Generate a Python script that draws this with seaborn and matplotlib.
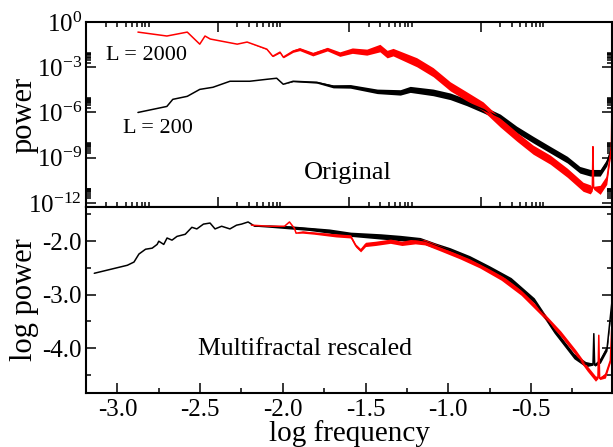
import numpy as np
import pandas as pd
import matplotlib
matplotlib.use("Agg")
import matplotlib.pyplot as plt
import matplotlib.ticker as mticker
import seaborn as sns

# ---- top panel: "Original" (log10 of x and of power) ----
top_red_x = [-7.21, -6.77, -6.46, -6.27, -6.19, -6.11, -5.70, -5.55, -5.25, -5.16, -5.05, -5.00,
             -4.85, -4.75, -4.55, -4.33, -4.14, -3.95, -3.73, -3.53, -3.42, -3.33, -2.97, -2.72,
             -2.46, -2.21, -1.96, -1.70, -1.45, -1.20, -0.94, -0.68, -0.44, -0.33, -0.30, -0.29,
             -0.28, -0.18, -0.08, -0.01, 0.0]
top_red_y = [-0.67, -0.93, -0.67, -1.47, -0.93, -1.13, -1.47, -1.33, -1.80, -2.27, -2.00, -2.33,
             -1.93, -1.80, -2.13, -1.80, -2.13, -1.90, -2.00, -1.73, -2.13, -2.00, -2.67, -3.33,
             -4.27, -4.93, -5.60, -6.67, -7.60, -8.47, -9.13, -10.00, -10.93, -11.10, -11.10, -8.27,
             -11.00, -11.13, -10.47, -8.3, -5.5]
top_red_w = [0, 0, 0, 0, 0, 0, 0, 0, 0.03, 0.03, 0.05, 0.05,
             0.08, 0.1, 0.12, 0.12, 0.15, 0.18, 0.2, 0.25, 0.25, 0.25, 0.3, 0.3,
             0.3, 0.3, 0.3, 0.3, 0.3, 0.3, 0.3, 0.3, 0.3, 0.3, 0.1, 0.05,
             0.1, 0.3, 0.3, 0.15, 0]

top_blk_x = [-7.21, -6.77, -6.68, -6.46, -6.27, -6.07, -5.81, -5.51, -5.25, -5.10, -5.00, -4.85,
             -4.49, -4.24, -3.98, -3.57, -3.22, -3.07, -2.72, -2.46, -2.21, -1.96, -1.70, -1.45,
             -1.20, -0.94, -0.68, -0.49, -0.33, -0.18, -0.08, 0.0]
top_blk_y = [-6.00, -5.60, -5.13, -4.93, -4.47, -4.33, -3.93, -3.93, -3.80, -3.73, -4.13, -3.93,
             -4.00, -4.27, -4.27, -4.60, -4.67, -4.47, -4.67, -4.93, -5.33, -5.80, -6.33, -7.13,
             -7.80, -8.47, -9.13, -9.80, -10.00, -10.00, -9.33, -8.3]
top_blk_w = [0, 0, 0, 0, 0, 0, 0, 0, 0, 0, 0, 0.03,
             0.06, 0.1, 0.12, 0.15, 0.18, 0.2, 0.22, 0.22, 0.22, 0.22, 0.22, 0.22,
             0.22, 0.22, 0.22, 0.22, 0.22, 0.22, 0.22, 0.1]

# ---- bottom panel: "Multifractal rescaled" ----
bot_blk_x = [-3.14, -2.94, -2.90, -2.87, -2.83, -2.79, -2.76, -2.75, -2.72, -2.70, -2.67, -2.64,
             -2.59, -2.55, -2.52, -2.48, -2.44, -2.41, -2.37, -2.32, -2.28, -2.25, -2.21, -2.17,
             -2.08, -1.96, -1.84, -1.72, -1.59, -1.41, -1.29, -1.17, -1.08, -0.99, -0.87, -0.75,
             -0.62, -0.48, -0.36, -0.24, -0.17, -0.125, -0.12, -0.115, -0.08, -0.04, -0.006]
bot_blk_y = [-2.60, -2.45, -2.39, -2.24, -2.15, -2.13, -2.06, -2.00, -2.06, -1.94, -1.98, -1.91,
             -1.87, -1.74, -1.77, -1.68, -1.66, -1.77, -1.72, -1.77, -1.70, -1.68, -1.64, -1.72,
             -1.72, -1.74, -1.77, -1.81, -1.87, -1.91, -1.94, -1.98, -2.08, -2.17, -2.32, -2.51,
             -2.73, -3.11, -3.67, -4.15, -4.30, -4.30, -3.73, -4.32, -4.23, -4.00, -3.00]
bot_blk_w = [0, 0, 0, 0, 0, 0, 0, 0, 0, 0, 0, 0,
             0, 0, 0, 0, 0, 0, 0, 0, 0, 0, 0, 0,
             0.02, 0.03, 0.03, 0.04, 0.04, 0.05, 0.05, 0.05, 0.05, 0.05, 0.05, 0.05,
             0.05, 0.05, 0.05, 0.05, 0.05, 0.02, 0.0, 0.02, 0.05, 0.05, 0.02]

bot_red_x = [-2.19, -2.08, -1.99, -1.96, -1.93, -1.92, -1.88, -1.81, -1.68, -1.59, -1.56, -1.53,
             -1.50, -1.44, -1.35, -1.28, -1.20, -1.14, -1.05, -0.93, -0.81, -0.68, -0.56, -0.44,
             -0.32, -0.23, -0.16, -0.11, -0.095, -0.09, -0.085, -0.05, -0.02, -0.002]
bot_red_y = [-1.70, -1.72, -1.72, -1.64, -1.76, -1.85, -1.83, -1.85, -1.89, -1.91, -2.08, -2.17,
             -2.06, -2.04, -2.00, -2.04, -2.00, -2.02, -2.13, -2.28, -2.45, -2.68, -2.96, -3.33,
             -3.73, -4.08, -4.38, -4.57, -4.55, -3.76, -4.57, -4.51, -4.23, -2.92]
bot_red_w = [0, 0, 0, 0, 0, 0, 0.02, 0.02, 0.03, 0.03, 0.03, 0.03,
             0.04, 0.04, 0.04, 0.04, 0.05, 0.05, 0.05, 0.05, 0.05, 0.05, 0.05, 0.05,
             0.05, 0.05, 0.05, 0.05, 0.02, 0.0, 0.02, 0.05, 0.04, 0.0]

sns.set_style("ticks")
plt.rcParams["font.family"] = ["Liberation Serif", "DejaVu Serif"]
plt.rcParams["mathtext.fontset"] = "custom"
plt.rcParams["mathtext.rm"] = "Liberation Serif"
plt.rcParams["mathtext.it"] = "Liberation Serif:italic"
plt.rcParams["axes.unicode_minus"] = False
for k in ["text.color", "axes.labelcolor", "xtick.color", "ytick.color", "axes.edgecolor"]:
    plt.rcParams[k] = "black"

fig = plt.figure(figsize=(6.13, 4.47), dpi=100)
ax1 = fig.add_axes([0.1403, 0.5369, 0.8581, 0.4139])
ax2 = fig.add_axes([0.1403, 0.1208, 0.8581, 0.4161])

# top panel
for xs, ys, ws, col in [(top_blk_x, top_blk_y, top_blk_w, "black"),
                        (top_red_x, top_red_y, top_red_w, "red")]:
    x = 10 ** np.array(xs)
    y = np.array(ys)
    w = np.array(ws)
    ax1.fill_between(x, 10 ** (y - w), 10 ** (y + w), color=col, lw=0)
    sns.lineplot(x=x, y=10 ** y, ax=ax1, color=col, lw=1.1, sort=False, estimator=None)
ax1.set_xscale("log")
ax1.set_yscale("log")
ax1.set_xlim(1e-8, 1e0)
ax1.set_ylim(10 ** -12.27, 1e0)

ymaj = [1e-12, 1e-9, 1e-6, 1e-3, 1e0]
ax1.yaxis.set_major_locator(mticker.FixedLocator(ymaj))
ax1.yaxis.set_minor_locator(mticker.FixedLocator([k * d for d in ymaj[:-1] for k in range(2, 10)]))
ax1.yaxis.set_major_formatter(mticker.FixedFormatter(["$10^{-12}$", "$10^{-9}$", "$10^{-6}$", "$10^{-3}$", "$10^{0}$"]))
xmaj = [1e-8, 1e-6, 1e-4, 1e-2, 1e0]
ax1.xaxis.set_major_locator(mticker.FixedLocator(xmaj))
ax1.xaxis.set_minor_locator(mticker.FixedLocator([k * d for d in xmaj[:-1] for k in range(2, 10)]))
ax1.xaxis.set_major_formatter(mticker.NullFormatter())
ax1.xaxis.set_minor_formatter(mticker.NullFormatter())
ax1.yaxis.set_minor_formatter(mticker.NullFormatter())
ax1.tick_params(which="both", direction="in", top=True, right=True, width=1.1, labelsize=18, pad=3)
ax1.tick_params(which="major", length=7.2)
ax1.tick_params(which="minor", length=3.6)
ax1.set_ylabel("power", fontsize=22)
ax1.yaxis.set_label_coords(-0.09, 0.5)
ax1.text(0.498, 0.151, "Original", transform=ax1.transAxes, ha="center", va="baseline", fontsize=19)
ax1.text(0.038, 0.795, "L = 2000", transform=ax1.transAxes, ha="left", va="baseline", fontsize=16)
ax1.text(0.070, 0.40, "L = 200", transform=ax1.transAxes, ha="left", va="baseline", fontsize=16)

# bottom panel
for xs, ys, ws, col in [(bot_blk_x, bot_blk_y, bot_blk_w, "black"),
                        (bot_red_x, bot_red_y, bot_red_w, "red")]:
    x = np.array(xs)
    y = np.array(ys)
    w = np.array(ws)
    ax2.fill_between(x, y - w, y + w, color=col, lw=0)
    sns.lineplot(x=x, y=y, ax=ax2, color=col, lw=1.1, sort=False, estimator=None)
ax2.set_xlim(-3.19, -0.01)
ax2.set_ylim(-4.84, -1.36)
ax2.xaxis.set_major_locator(mticker.MultipleLocator(0.5))
ax2.xaxis.set_minor_locator(mticker.MultipleLocator(0.25))
ax2.yaxis.set_major_locator(mticker.MultipleLocator(1.0))
ax2.yaxis.set_minor_locator(mticker.MultipleLocator(0.5))
ax2.xaxis.set_major_formatter(mticker.FormatStrFormatter("%.1f"))
ax2.yaxis.set_major_formatter(mticker.FormatStrFormatter("%.1f"))
ax2.tick_params(which="both", direction="in", top=False, right=True, width=1.1, labelsize=18, pad=3)
ax2.tick_params(axis="x", pad=4)
ax2.tick_params(which="major", length=7.2)
ax2.tick_params(which="minor", length=3.6)
ax2.set_ylabel("log power", fontsize=22)
ax2.yaxis.set_label_coords(-0.09, 0.5)
ax2.set_xlabel("log frequency", fontsize=21)
ax2.xaxis.set_label_coords(0.5, -0.145)
ax2.text(0.416, 0.204, "Multifractal rescaled", transform=ax2.transAxes, ha="center", va="baseline", fontsize=18.5)

for ax in (ax1, ax2):
    for s in ax.spines.values():
        s.set_linewidth(1.5)
        s.set_color("black")

fig.savefig("out.png", dpi=100)
